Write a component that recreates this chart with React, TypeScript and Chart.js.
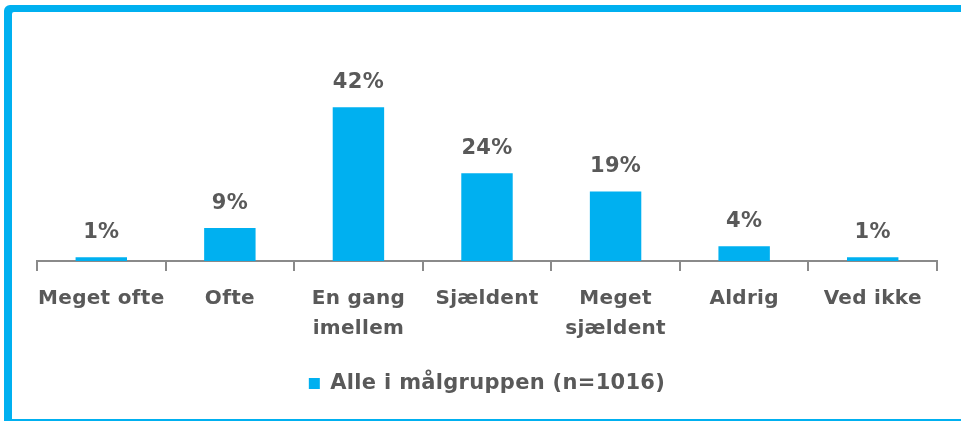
import React, { useEffect, useRef } from 'react';
import { Chart, registerables } from 'chart.js';

Chart.register(...registerables);

const categories: string[][] = [
  ['Meget ofte'],
  ['Ofte'],
  ['En gang', 'imellem'],
  ['Sjældent'],
  ['Meget', 'sjældent'],
  ['Aldrig'],
  ['Ved ikke'],
];
const values: number[] = [1, 9, 42, 24, 19, 4, 1];
const valueLabels: string[] = ['1%', '9%', '42%', '24%', '19%', '4%', '1%'];
const seriesLabel = 'Alle i målgruppen (n=1016)';

const CYAN = '#00B0F0';
const TEXT = '#595959';
const AXIS = '#8a8a8a';
const FONT = '"DejaVu Sans", sans-serif';

const spacingPlugin = {
  id: 'letterSpacing',
  beforeUpdate(chart: any) {
    chart.ctx.letterSpacing = '0.3px';
  },
  beforeDraw(chart: any) {
    chart.ctx.letterSpacing = '0.3px';
  },
};

const framePlugin = {
  id: 'frame',
  beforeDraw(chart: any) {
    const ctx = chart.ctx as CanvasRenderingContext2D;
    const w = chart.width;
    const h = chart.height;
    ctx.save();
    ctx.fillStyle = CYAN;
    ctx.beginPath();
    ctx.moveTo(4, h);
    ctx.lineTo(4, 11);
    ctx.arcTo(4, 5, 10, 5, 6);
    ctx.lineTo(w, 5);
    ctx.lineTo(w, 12);
    ctx.lineTo(14, 12);
    ctx.arcTo(12, 12, 12, 14, 2);
    ctx.lineTo(12, h);
    ctx.closePath();
    ctx.fill();
    ctx.fillRect(4, h - 2, w - 4, 2);
    ctx.restore();
  },
};

const dataLabelPlugin = {
  id: 'dataLabels',
  afterDatasetsDraw(chart: any) {
    const ctx = chart.ctx as CanvasRenderingContext2D;
    const meta = chart.getDatasetMeta(0);
    ctx.save();
    ctx.font = `bold 21px ${FONT}`;
    ctx.fillStyle = TEXT;
    ctx.textAlign = 'center';
    ctx.textBaseline = 'alphabetic';
    meta.data.forEach((bar: any, i: number) => {
      ctx.fillText(valueLabels[i], bar.x, bar.y - 19);
    });
    ctx.restore();
  },
};

export default function App() {
  const ref = useRef<HTMLCanvasElement>(null);

  useEffect(() => {
    const chart = new Chart(ref.current as HTMLCanvasElement, {
      type: 'bar',
      data: {
        labels: categories as any,
        datasets: [
          {
            label: seriesLabel,
            data: values,
            backgroundColor: CYAN,
            borderWidth: 0,
            categoryPercentage: 1,
            barPercentage: 0.4,
          },
        ],
      },
      options: {
        responsive: false,
        devicePixelRatio: 1,
        animation: false,
        layout: { padding: { left: 37, right: 24, top: 78, bottom: 17 } },
        plugins: {
          legend: {
            position: 'bottom',
            labels: {
              boxWidth: 11,
              boxHeight: 11,
              color: TEXT,
              padding: 10,
              font: { family: FONT, size: 21, weight: 'bold' },
            },
          },
          tooltip: { enabled: false },
        },
        scales: {
          x: {
            grid: {
              offset: true,
              drawOnChartArea: false,
              drawTicks: true,
              tickLength: 10,
              color: AXIS,
              lineWidth: 2,
            },
            border: { display: true, color: AXIS, width: 2 },
            ticks: {
              color: TEXT,
              font: { family: FONT, size: 20, weight: 'bold', lineHeight: 1.5 },
              padding: 13,
              maxRotation: 0,
              autoSkip: false,
            },
            afterFit: (scale: any) => {
              scale.height = 102;
            },
          },
          y: { display: false, min: 0, max: 50 },
        },
      },
      plugins: [framePlugin, spacingPlugin, dataLabelPlugin],
    });
    return () => chart.destroy();
  }, []);

  return (
    <div
      style={{
        position: 'fixed',
        left: 0,
        top: 0,
        width: 961,
        height: 421,
        background: '#ffffff',
        overflow: 'hidden',
      }}
    >
      <canvas
        ref={ref}
        width={961}
        height={421}
        style={{ position: 'absolute', left: 0, top: 0, width: 961, height: 421 }}
      />
    </div>
  );
}
